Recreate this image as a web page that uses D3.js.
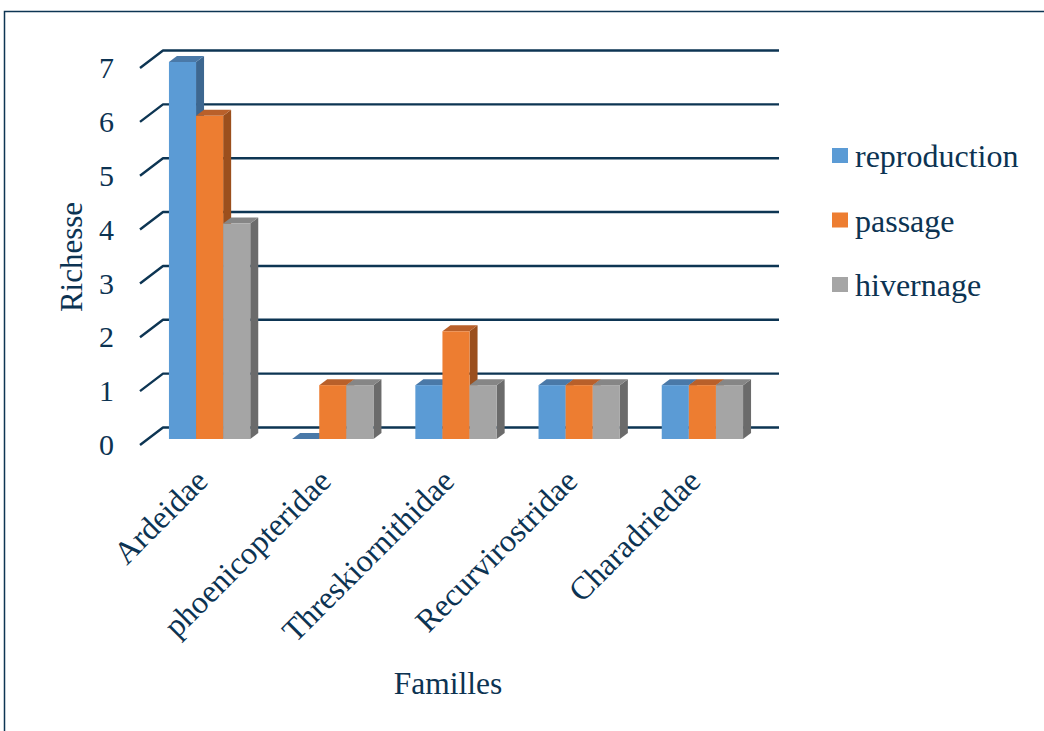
<!DOCTYPE html>
<html>
<head>
<meta charset="utf-8">
<script src="https://cdn.jsdelivr.net/npm/d3@7"></script>
<style>
  html, body { margin: 0; padding: 0; background: #fff; }
  svg { display: block; }
  text { font-family: "Liberation Serif", "Times New Roman", serif; fill: #0c3352; }
</style>
</head>
<body>
<svg id="chart" width="1044" height="731"></svg>
<script>
// Bird families and their species richness per status
const families = ["Ardeidae", "phoenicopteridae", "Threskiornithidae", "Recurvirostridae", "Charadriedae"];
const seriesNames = ["reproduction", "passage", "hivernage"];
const reproduction = [7, 0, 1, 1, 1];
const passage = [6, 1, 2, 1, 1];
const hivernage = [4, 1, 1, 1, 1];
const yTicks = [0, 1, 2, 3, 4, 5, 6, 7];

const seriesValues = [reproduction, passage, hivernage];
// front / top / side shades for the 3D columns
const shades = [
  { front: "#5b9bd5", top: "#4a79a8", side: "#3d6790" },
  { front: "#ed7d31", top: "#b9602a", side: "#9b4f1d" },
  { front: "#a5a5a5", top: "#868686", side: "#6b6b6b" }
];
const navy = "#0d3553";

const svg = d3.select("#chart");

// outer frame (top and left edges)
svg.append("path")
  .attr("d", "M4.5,731 L4.5,11.5 L1044,11.5")
  .attr("fill", "none").attr("stroke", navy).attr("stroke-width", 1.5);

// back wall geometry
const backLeft = 163, backRight = 779;
const depthDx = -23, depthDy = 17.5;           // back wall -> front edge of floor
const y = d3.scaleLinear().domain([0, 7]).range([427.5, 50.5]);

const x = d3.scaleBand().domain(families).range([backLeft, backRight])
  .paddingInner(0.34).paddingOuter(0.17);
const xs = d3.scaleBand().domain(seriesNames).range([0, x.bandwidth()]);

// bars sit partway into the depth
const barDx = -15, barDy = 11.5;   // front face offset from back wall
const barDepthX = 8, barDepthY = 6;

// gridlines on back wall with diagonal ticks to the front
const grid = svg.append("g");
yTicks.forEach(t => {
  const yb = y(t);
  grid.append("path")
    .attr("d", `M${backLeft + depthDx},${yb + depthDy} L${backLeft},${yb} L${backRight},${yb}`)
    .attr("fill", "none").attr("stroke", navy).attr("stroke-width", 2.4)
    .attr("stroke-linejoin", "round");
});

// y-axis tick labels
svg.append("g").selectAll("text").data(yTicks).join("text")
  .attr("x", 114)
  .attr("y", d => y(d) + depthDy)
  .attr("dy", "0.34em")
  .attr("text-anchor", "end")
  .attr("font-size", 30)
  .text(d => d);

// columns
const bars = svg.append("g");
families.forEach((fam, i) => {
  seriesNames.forEach((s, j) => {
    const v = seriesValues[j][i];
    const x0 = x(fam) + xs(s) + barDx;
    const w = xs.bandwidth();
    const yTop = y(v) + barDy;
    const yBase = y(0) + barDy;
    const c = shades[j];
    const g = bars.append("g");
    // right side
    g.append("path")
      .attr("d", `M${x0 + w},${yTop} L${x0 + w + barDepthX},${yTop - barDepthY} L${x0 + w + barDepthX},${yBase - barDepthY} L${x0 + w},${yBase} Z`)
      .attr("fill", c.side);
    // top
    g.append("path")
      .attr("d", `M${x0},${yTop} L${x0 + barDepthX},${yTop - barDepthY} L${x0 + w + barDepthX},${yTop - barDepthY} L${x0 + w},${yTop} Z`)
      .attr("fill", c.top);
    // front
    g.append("rect")
      .attr("x", x0).attr("y", yTop)
      .attr("width", w).attr("height", yBase - yTop)
      .attr("fill", c.front);
  });
});

// category labels, rotated
svg.append("g").selectAll("text").data(families).join("text")
  .attr("transform", d => `translate(${x(d) + x.bandwidth() / 2 + barDx},483) rotate(-45)`)
  .attr("text-anchor", "end")
  .attr("font-size", 32)
  .text(d => d);

// axis titles
svg.append("text")
  .attr("transform", "translate(82,257) rotate(-90)")
  .attr("text-anchor", "middle")
  .attr("font-size", 31)
  .text("Richesse");

svg.append("text")
  .attr("x", 448).attr("y", 694)
  .attr("text-anchor", "middle")
  .attr("font-size", 31.5)
  .text("Familles");

// legend
const legend = svg.append("g");
seriesNames.forEach((s, j) => {
  const ly = 167 + j * 64.5;
  legend.append("rect")
    .attr("x", 832).attr("y", ly - 19)
    .attr("width", 16).attr("height", 15)
    .attr("fill", shades[j].front);
  legend.append("text")
    .attr("x", 855).attr("y", ly)
    .attr("font-size", 32)
    .text(s);
});
</script>
</body>
</html>
